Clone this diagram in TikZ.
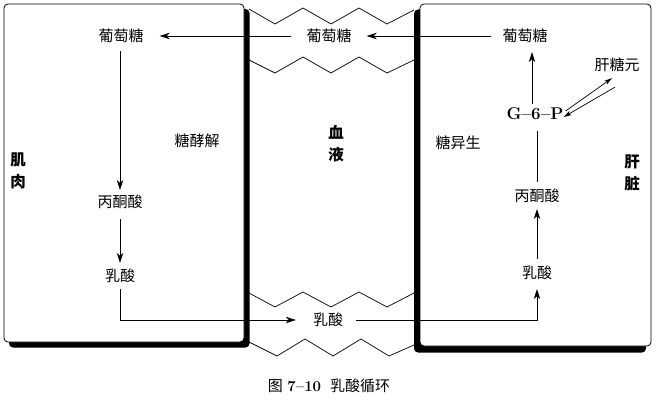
\documentclass[tikz,border=0pt]{standalone}
\usepackage{fontspec}
\newfontfamily\cjk{Noto Sans CJK SC}
\usetikzlibrary{arrows.meta}
\begin{document}
\begin{tikzpicture}[x=1pt,y=-1pt,
  lbl/.style={font=\cjk\fontsize{15}{15}\selectfont, inner sep=0pt},
  blbl/.style={font=\cjk\bfseries\fontsize{15.5}{22}\selectfont, inner sep=0pt, align=center},
  conn/.style={line width=0.8pt},
  arr/.style={line width=0.8pt, -{Stealth[length=10pt,width=6.5pt,inset=3pt]}},
  sarr/.style={line width=0.7pt, -{Stealth[length=8pt,width=4.5pt,inset=2pt]}},
  zig/.style={line width=0.7pt},
  box/.style={line width=0.8pt, rounded corners=4pt, fill=white},
  shadowbox/.style={rounded corners=4pt, fill=black}]
\useasboundingbox (0,0) rectangle (656,404);

% boxes
\fill[shadowbox] (9,9) rectangle (249.5,347.5);
\draw[box] (4,4) rectangle (244,342);
\fill[shadowbox] (414,9.5) rectangle (646,352.5);
\draw[box] (420,4) rectangle (651,346);

% zigzags
\draw[zig] (249,9) -- (275,24) -- (303,8) -- (331,24) -- (359,8) -- (387,24) -- (414,10);
\draw[zig] (249,60) -- (275,73) -- (303,57) -- (331,73) -- (359,57) -- (387,73) -- (414,60);
\draw[zig] (249,293) -- (275,307) -- (303,292) -- (331,307) -- (359,292) -- (387,307) -- (414,293);
\draw[zig] (249,342) -- (277,356) -- (305,339) -- (333,356) -- (361,339) -- (389,356) -- (414,345);

% nodes
\node[lbl] (gl) at (121,36) {葡萄糖};
\node[lbl] (gm) at (329,36) {葡萄糖};
\node[lbl] (gr) at (525,36) {葡萄糖};
\node[lbl] (pl) at (120,202) {丙酮酸};
\node[lbl] (ll) at (120,276) {乳酸};
\node[lbl] (lm) at (328,320) {乳酸};
\node[lbl] (lr) at (537,273) {乳酸};
\node[lbl] (pr) at (537,196) {丙酮酸};
\node[inner sep=0pt, font=\bfseries\fontsize{17}{17}\selectfont] (g6p) at (535,114) {G--6--P};
\node[lbl] (gly) at (617,65) {肝糖元};
\node[lbl] (glyco) at (197,141) {糖酵解};
\node[lbl] (gng) at (458,143) {糖异生};
\node[blbl] (blood) at (336,144) {血\\液};
\node[blbl] (muscle) at (18,171) {肌\\肉};
\node[blbl] (liver) at (632,173) {肝\\脏};
\node[inner sep=0pt, font=\fontsize{15}{15}\selectfont] (cap) at (329,386)
  {{\cjk 图} \textbf{7--10}\hspace{0.6em}{\cjk 乳酸循环}};

% connectors
\draw[arr, shorten <=15pt, shorten >=16pt] (gm.west) -- (gl.east);
\draw[arr, shorten <=11pt, shorten >=15pt] (gr.west) -- (gm.east);
\draw[arr, shorten <=8pt, shorten >=5pt] (pl.north |- gl.south) -- (pl.north);
\draw[arr, shorten <=10pt, shorten >=6pt] (pl.south) -- (ll.north);
\draw[arr, shorten <=6pt, shorten >=17pt] (ll.south) |- (lm.west);
\draw[arr, shorten <=13pt, shorten >=9pt] (lm.east) -| (lr.south);
\draw[arr, shorten <=7pt, shorten >=6pt] (lr.north) -- (pr.south);
\draw[conn, shorten <=7pt, shorten >=11pt] (pr.north) -- (pr.north |- g6p.south);
\draw[arr, shorten <=4pt, shorten >=9pt] ([xshift=-3pt]g6p.north) -- ([xshift=-3pt]g6p.north |- gr.south);
\draw[sarr] ([xshift=2pt,yshift=3pt]g6p.east) -- ([xshift=-5pt,yshift=-6pt]gly.south);
\draw[sarr] ([xshift=-2pt,yshift=-15pt]gly.south) -- ([yshift=-3pt]g6p.east);
\end{tikzpicture}
\end{document}
